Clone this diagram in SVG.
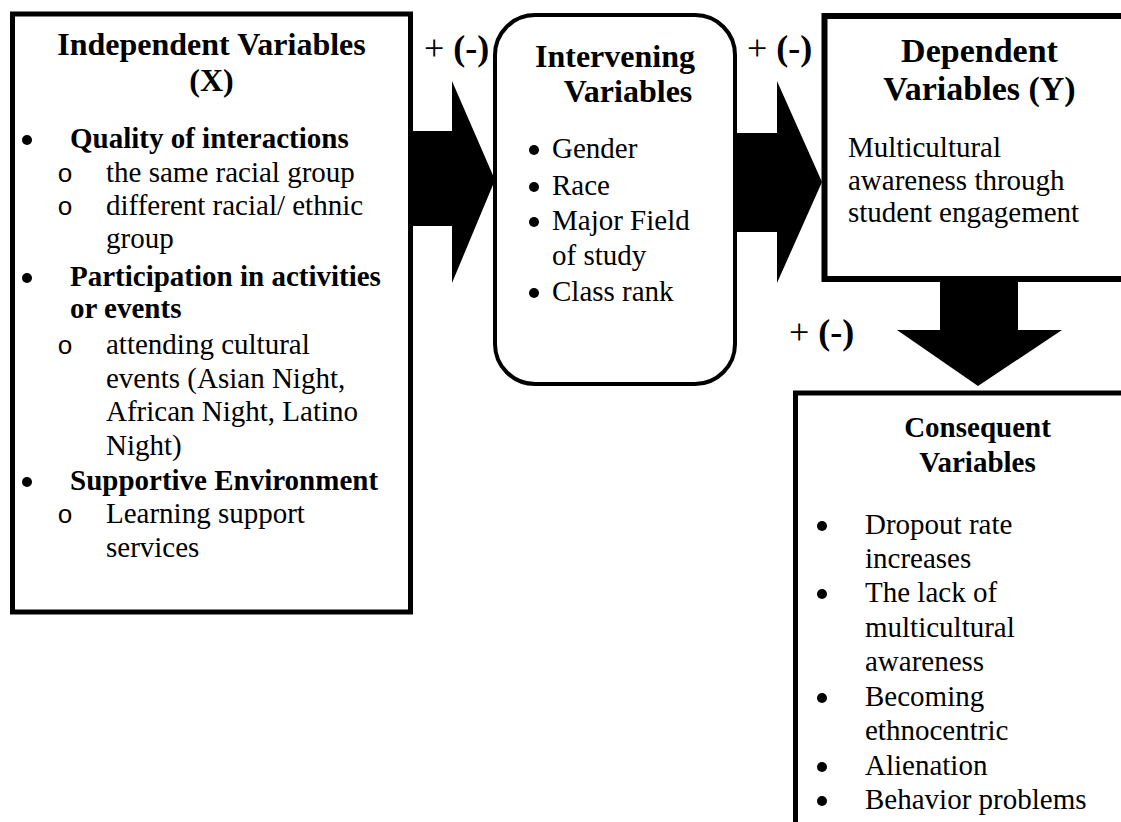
<svg xmlns="http://www.w3.org/2000/svg" width="1121" height="822" viewBox="0 0 1121 822" font-family="'Liberation Serif', 'DejaVu Serif', serif">
<style>
text { fill: #000; }
.t { font-weight: bold; font-size: 32px; text-anchor: middle; }
.b { font-size: 29px; }
.bb { font-size: 29px; font-weight: bold; }
.o { font-size: 26px; text-anchor: middle; font-family: 'Liberation Mono', 'DejaVu Sans Mono', monospace; }
.pm { font-size: 36px; }
.pm tspan { font-weight: bold; }
.box { fill: #fff; stroke: #000; }
.arrow { fill: #000; stroke: none; }
.dot { fill: #000; }
</style>
<rect x="0" y="0" width="1121" height="822" fill="#fff"/>

<g id="independent">
  <rect class="box" x="12.5" y="14" width="398" height="598" stroke-width="5"/>
  <text class="t" x="211.5" y="55">Independent Variables</text>
  <text class="t" x="211.5" y="91">(X)</text>
  <circle class="dot" cx="27" cy="140" r="5"/>
  <text class="bb" x="70" y="148">Quality of interactions</text>
  <text class="o" x="65" y="182">o</text>
  <text class="b" x="106" y="182">the same racial group</text>
  <text class="o" x="65" y="215">o</text>
  <text class="b" x="106" y="215">different racial/ ethnic</text>
  <text class="b" x="106" y="248">group</text>
  <circle class="dot" cx="27" cy="278" r="5"/>
  <text class="bb" x="70" y="286">Participation in activities</text>
  <text class="bb" x="70" y="318">or events</text>
  <text class="o" x="65" y="354">o</text>
  <text class="b" x="106" y="354">attending cultural</text>
  <text class="b" x="106" y="388">events (Asian Night,</text>
  <text class="b" x="106" y="421">African Night, Latino</text>
  <text class="b" x="106" y="455">Night)</text>
  <circle class="dot" cx="27" cy="482" r="5"/>
  <text class="bb" x="70" y="490">Supportive Environment</text>
  <text class="o" x="65" y="523">o</text>
  <text class="b" x="106" y="523">Learning support</text>
  <text class="b" x="106" y="557">services</text>
</g>

<g id="intervening">
  <rect class="box" x="495" y="15" width="240" height="369" rx="40" ry="40" stroke-width="4"/>
  <text class="t" x="615" y="67">Intervening</text>
  <text class="t" x="628" y="102">Variables</text>
  <circle class="dot" cx="534" cy="150" r="5"/>
  <text class="b" x="552" y="158">Gender</text>
  <circle class="dot" cx="534" cy="187" r="5"/>
  <text class="b" x="552" y="195">Race</text>
  <circle class="dot" cx="534" cy="222" r="5"/>
  <text class="b" x="552" y="230">Major Field</text>
  <text class="b" x="552" y="265">of study</text>
  <circle class="dot" cx="534" cy="293" r="5"/>
  <text class="b" x="552" y="301">Class rank</text>
</g>

<g id="dependent">
  <rect class="box" x="824.5" y="16" width="310" height="263" stroke-width="6"/>
  <text class="t" x="979.5" y="62" style="font-size:34px">Dependent</text>
  <text class="t" x="979.5" y="100" style="font-size:34px">Variables (Y)</text>
  <text class="b" x="848" y="157">Multicultural</text>
  <text class="b" x="848" y="190">awareness through</text>
  <text class="b" x="848" y="222">student engagement</text>
</g>

<g id="consequent">
  <rect class="box" x="795.5" y="393" width="340" height="450" stroke-width="5"/>
  <text class="t" x="977.5" y="437" style="font-size:29px">Consequent</text>
  <text class="t" x="977.5" y="472" style="font-size:29px">Variables</text>
  <circle class="dot" cx="822" cy="526" r="5"/>
  <text class="b" x="865" y="534">Dropout rate</text>
  <text class="b" x="865" y="568">increases</text>
  <circle class="dot" cx="822" cy="594" r="5"/>
  <text class="b" x="865" y="602">The lack of</text>
  <text class="b" x="865" y="637">multicultural</text>
  <text class="b" x="865" y="671">awareness</text>
  <circle class="dot" cx="822" cy="698" r="5"/>
  <text class="b" x="865" y="706">Becoming</text>
  <text class="b" x="865" y="740">ethnocentric</text>
  <circle class="dot" cx="822" cy="767" r="5"/>
  <text class="b" x="865" y="775">Alienation</text>
  <circle class="dot" cx="822" cy="801" r="5"/>
  <text class="b" x="865" y="809">Behavior problems</text>
</g>

<g id="connectors">
  <polygon class="arrow" points="411,131 452,131 452,81 495,180 452,283 452,226 411,226"/>
  <polygon class="arrow" points="735,133 777,133 777,81 822,182 777,283 777,232 735,232"/>
  <polygon class="arrow" points="940,280 1018,280 1018,330 1062,330 978,386 897,330 940,330"/>
  <text class="pm" x="424" y="60">+ <tspan>(-)</tspan></text>
  <text class="pm" x="747" y="60">+ <tspan>(-)</tspan></text>
  <text class="pm" x="789" y="344">+ <tspan>(-)</tspan></text>
</g>
</svg>
